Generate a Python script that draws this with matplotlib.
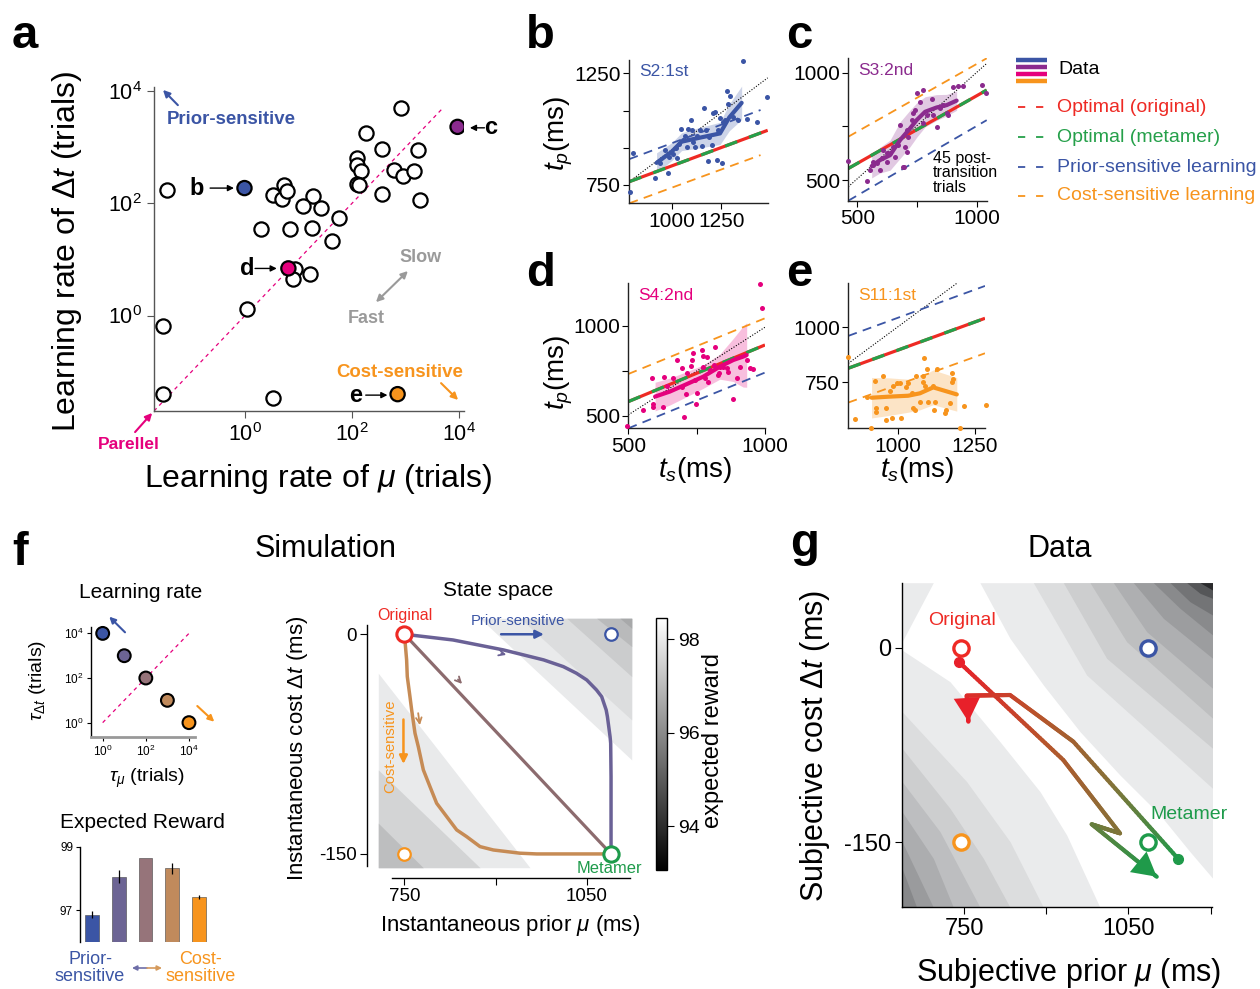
import numpy as np
import matplotlib
matplotlib.use("Agg")
import matplotlib.pyplot as plt
from matplotlib.collections import LineCollection
from matplotlib.colors import LinearSegmentedColormap, Normalize
from matplotlib.cm import ScalarMappable
from matplotlib.ticker import NullLocator

plt.rcParams.update({
    "font.family": ["Liberation Sans", "DejaVu Sans"],
    "mathtext.fontset": "custom",
    "mathtext.rm": "Liberation Sans",
    "mathtext.it": "Liberation Sans:italic",
    "mathtext.bf": "Liberation Sans:bold",
    "axes.linewidth": 1.0,
})

BLUE = "#3B55A5"
PURPLE = "#8B2B8E"
MAGENTA = "#E5007D"
ORANGE = "#F7941D"
RED = "#EE2A24"
GREEN = "#25A04A"
GRAY = "#9A9A9A"

# ---------------- panel a: learning rates (log10 trials) ----------------
a_open_mu = [-1.46, 0.73, 0.53, 0.70, 0.78, 1.27, 1.08, 1.42, 0.30, 0.84, 1.25, 1.76,
             1.62, 0.93, 0.89, 1.21, 0.03, -1.53, -1.53, 0.52, 2.91, 2.26, 2.55, 3.24,
             2.09, 2.09, 2.16, 2.09, 2.12, 2.79, 2.96, 3.15, 2.55, 3.27]
a_open_dt = [2.23, 2.32, 2.14, 2.08, 2.21, 2.13, 1.95, 1.92, 1.54, 1.55, 1.56, 1.73,
             1.33, 0.83, 0.65, 0.74, 0.12, -0.18, -1.39, -1.46, 3.69, 3.25, 2.96, 2.95,
             2.80, 2.68, 2.57, 2.35, 2.32, 2.60, 2.48, 2.57, 2.17, 2.05]
a_hl_mu = [-0.01, 3.97, 0.81, 2.85]
a_hl_dt = [2.27, 3.36, 0.84, -1.40]
a_hl_colors = [BLUE, PURPLE, MAGENTA, ORANGE]

# ---------------- panels b-e: tp vs ts ----------------
b_ts = [790, 804, 916, 941, 966, 983, 988, 1008, 1022, 1025, 1039, 1047, 1059, 1067, 1076,
        1084, 1096, 1101, 1109, 1117, 1129, 1143, 1151, 1163, 1173, 1181, 1190, 1201, 1210,
        1218, 1226, 1235, 1243, 1252, 1260, 1268, 1277, 1285, 1294, 1310, 1335, 1357, 1377,
        1431, 1481]
b_tp = [720, 892, 783, 850, 909, 805, 874, 889, 914, 869, 933, 999, 951, 969, 921,
        999, 1041, 996, 944, 921, 969, 996, 924, 1093, 996, 857, 966, 929, 1071,
        1078, 862, 996, 1048, 847, 1033, 1041, 1171, 1113, 1148, 1056, 1041, 1305, 1044,
        1033, 1145]
b_mean_ts = [924, 1000, 1050, 1126, 1243, 1290, 1352]
b_mean_tp = [849, 899, 944, 959, 981, 1053, 1118]
b_band = [45, 40, 40, 45, 50, 60, 75]
b_ideal = ([787, 1483], [765, 1230])
b_opt = ([787, 1483], [765, 995])
b_prior = ([787, 1447], [866, 1086])
b_cost = ([787, 1447], [668, 884])

c_ts = [462, 542, 564, 567, 581, 595, 602, 609, 623, 637, 651, 658, 672, 679, 693, 700, 707,
        707, 714, 728, 735, 742, 749, 763, 774, 777, 791, 812, 819, 832, 846, 860, 874, 881,
        902, 923, 944, 1021, 1039, 553, 623, 696]
c_tp = [588, 495, 570, 585, 578, 547, 601, 640, 585, 624, 655, 609, 663, 756, 562, 655, 632,
        733, 702, 779, 811, 826, 904, 865, 919, 764, 803, 876, 803, 748, 834, 849, 811, 803,
        935, 938, 938, 943, 904, 547, 624, 562]
c_mean_ts = [560, 595, 637, 679, 721, 749, 784, 832, 874, 916]
c_mean_tp = [565, 593, 616, 686, 741, 780, 818, 838, 849, 870]
c_band = [55, 60, 70, 85, 85, 80, 70, 60, 50, 45]
c_ideal = ([462, 1042], [469, 1043])
c_opt = ([462, 1042], [554, 919])
c_prior = ([462, 1042], [404, 779])
c_cost = ([462, 1042], [702, 1067])

d_ts = [496, 555, 585, 589, 591, 626, 630, 640, 665, 695, 704, 710, 713, 728, 732, 744, 748,
        750, 768, 772, 774, 787, 793, 799, 813, 817, 829, 833, 835, 848, 860, 866, 884, 896,
        909, 933, 945, 982, 990, 957, 677, 695, 738, 780]
d_tp = [442, 532, 708, 563, 550, 546, 717, 665, 708, 662, 494, 621, 736, 777, 810, 699, 565,
        624, 866, 773, 833, 829, 690, 755, 782, 885, 727, 740, 773, 773, 764, 745, 591, 708,
        773, 810, 764, 1234, 1102, 758, 810, 764, 848, 708]
d_mean_ts = [598, 652, 713, 774, 835, 884, 920, 933]
d_mean_tp = [606, 634, 675, 717, 773, 810, 829, 838]
d_band = [80, 75, 70, 65, 70, 120, 170, 180]
d_ideal = ([500, 1000], [504, 993])
d_opt = ([500, 1000], [578, 894])
d_prior = ([500, 1000], [429, 740])
d_cost = ([500, 1000], [732, 1043])

e_ts = [841, 862, 900, 927, 929, 930, 954, 962, 964, 975, 981, 986, 997, 1008, 1010, 1027,
        1034, 1045, 1051, 1056, 1061, 1072, 1081, 1083, 1085, 1088, 1094, 1099, 1115, 1117,
        1121, 1126, 1153, 1156, 1169, 1175, 1175, 1180, 1202, 1214, 1284, 913]
e_tp = [864, 583, 685, 756, 632, 617, 779, 632, 579, 712, 586, 733, 745, 749, 586, 727,
        745, 700, 632, 624, 779, 662, 753, 779, 859, 733, 809, 662, 733, 624,
        662, 809, 612, 624, 655, 753, 791, 764, 541, 642, 647, 541]
e_mean_ts = [916, 975, 1034, 1072, 1115, 1191]
e_mean_tp = [680, 685, 689, 700, 727, 695]
e_band = [92, 85, 75, 75, 79, 76]
e_ideal = ([841, 1191], [836, 1200])
e_opt = ([841, 1282], [814, 1041])
e_prior = ([841, 1282], [961, 1188])
e_cost = ([841, 1282], [658, 882])

# ---------------- panel f ----------------
sim_colors = [BLUE, "#6C6494", "#96747A", "#C08A5C", ORANGE]
lr_mu = [0, 1, 2, 3, 4]
lr_dt = [4, 3, 2, 1, 0]
reward_mean = [96.86, 98.06, 98.64, 98.32, 97.42]
reward_err = [0.11, 0.20, 0.0, 0.17, 0.07]

ss_prior_mu = [750, 830, 913, 979, 1011.5, 1033, 1050, 1066, 1074.6, 1082, 1084, 1088.4,
               1089.4, 1090, 1090]
ss_prior_dt = [0, -3.9, -10.7, -17.5, -22.1, -26.6, -31.2, -38.0, -42.6, -51.7, -56.2, -69.9,
               -74.4, -97.2, -150]
ss_cost_mu = [750, 753.6, 754.7, 759.1, 761.9, 767.4, 772.8, 781.1, 792, 803, 819.5, 836,
              852.4, 874.4, 896.3, 940.2, 967.6, 1022.5, 1090]
ss_cost_dt = [0, -17.5, -28.9, -42.6, -51.7, -67.6, -76.7, -92.6, -104, -115.4, -124.5, -133.6,
              -138.2, -145, -147.3, -149.5, -150, -150, -150]
ss_direct = ([750, 1090], [0, -150])

# reward band edges
f_upper = [([874.4, 1124], [10.9, -85.8]), ([940.2, 1124], [10.9, -58.5]),
           ([1017, 1124], [10.9, -28.9]), ([1066.4, 1124], [10.9, -8.4]),
           ([1104.8, 1124], [10.9, 4.1])]
f_lower = [([707, 956.7], [-26.6, -159.4]), ([707, 874.4], [-92.6, -159.4]),
           ([707, 781], [-129, -159.4])]
f_up_cols = ["#E9EAEB", "#DCDDDE", "#CBCCCD", "#B9BABB", "#A8A9AA"]
f_lo_cols = ["#E9EAEB", "#D3D4D5", "#BDBEBF"]

# ---------------- panel g ----------------
g_upper = [
    ([779, 834, 894.8, 961.7, 1034.6, 1107.7, 1162.4, 1203.8], [50.2, 7.2, -28.8, -64.8, -98.3, -129.1, -157.5, -178]),
    ([876.5, 973.8, 1203.8], [50.2, -21.1, -108.6]),
    ([931.3, 1010.3, 1203.8], [50.2, -8.2, -77.7]),
    ([979.9, 1046.8, 1203.8], [50.2, 4.6, -54.5]),
    ([1022.5, 1083.3, 1203.8], [50.2, 12.4, -31.4]),
    ([1059, 1113.8, 1203.8], [50.2, 22.7, -8.2]),
    ([1095.5, 1144.2, 1203.8], [50.2, 30.4, 9.8]),
    ([1126, 1162.4, 1203.8], [50.2, 35.5, 25.2]),
    ([1156.3, 1180.7, 1203.8], [50.2, 42, 38.1]),
    ([1180.7, 1203.8], [50.2, 44.5]),
]
g_lower = [
    ([637, 724.4, 815.7, 888.7, 937.4, 998], [-1.8, -26.2, -72.6, -111.1, -144.6, -200.4]),
    ([637, 754.9, 834, 894.8], [-49.4, -103.4, -149.7, -200.4]),
    ([637, 724.4, 785.3, 834], [-77.7, -124, -162.6, -200.4]),
    ([637, 706.2, 779.2], [-103.4, -142, -200.4]),
    ([637, 694, 730.5], [-126.6, -162.6, -200.4]),
    ([637, 694], [-149.7, -200.4]),
    ([637, 663.6], [-170.3, -200.4]),
]
g_corner = ([637, 694], [4.6, 50.2])
g_up_cols = ["#EAEBEC", "#DCDDDE", "#CDCECF", "#BEBFC0", "#AEAFB1", "#9C9D9F",
             "#898A8C", "#737476", "#555658", "#2A2A2C"]
g_lo_cols = ["#EAEBEC", "#DCDDDE", "#CDCECF", "#BDBEC0", "#ACADAF", "#9A9B9D", "#87888A"]
g_fwd_mu = [741.4, 931.2, 1034.7, 983, 1101.7]
g_fwd_dt = [-11.3, -86.7, -143.3, -136.3, -176.8]
g_back_mu = [1141.1, 949.5, 834, 755, 758]
g_back_dt = [-163.1, -72.5, -36.5, -37, -57.1]

W, H = 1260, 989
fig = plt.figure(figsize=(W / 100, H / 100), dpi=100)


def add_ax(l, t, r, b):
    return fig.add_axes([l / W, 1 - b / H, (r - l) / W, (b - t) / H])


def ftxt(x, y, s, **kw):
    fig.text(x / W, 1 - y / H, s, **kw)


def lspines(ax, color="#222222"):
    ax.spines["top"].set_visible(False)
    ax.spines["right"].set_visible(False)
    ax.spines["left"].set_color(color)
    ax.spines["bottom"].set_color(color)


# ======================= panel a =======================
axa = add_ax(154, 87, 464, 411)
axa.set_xscale("log")
axa.set_yscale("log")
axa.set_xlim(10 ** -1.70, 10 ** 4.09)
axa.set_ylim(10 ** -1.70, 10 ** 4.07)
axa.plot([10 ** -1.7, 10 ** 3.7], [10 ** -1.7, 10 ** 3.7], color=MAGENTA, lw=0.9, ls=(0, (3, 3)))
axa.scatter(10 ** np.array(a_open_mu), 10 ** np.array(a_open_dt), s=105, facecolors="white",
            edgecolors="black", linewidths=1.6, zorder=3)
axa.scatter(10 ** np.array(a_hl_mu), 10 ** np.array(a_hl_dt), s=105, c=a_hl_colors,
            edgecolors="black", linewidths=1.6, zorder=4)
lspines(axa, "#555555")
axa.set_xticks([1, 100, 1e4])
axa.set_xticklabels([r"$10^0$", r"$10^2$", r"$10^4$"])
axa.set_yticks([1, 100, 1e4])
axa.set_yticklabels([r"$10^0$", r"$10^2$", r"$10^4$"])
axa.xaxis.set_minor_locator(NullLocator())
axa.yaxis.set_minor_locator(NullLocator())
axa.tick_params(labelsize=15.5, length=5, color="#555555")

tA = axa.transAxes
arrow_kw = dict(lw=1.5, mutation_scale=10, shrinkA=0, shrinkB=0)
axa.text(0.042, 0.901, "Prior-sensitive", transform=tA, color=BLUE, fontweight="bold", fontsize=13.4, va="center")
axa.annotate("", xy=(0.029, 0.991), xytext=(0.077, 0.944), xycoords=tA,
             arrowprops=dict(arrowstyle="-|>", color=BLUE, **arrow_kw))
axa.text(0.861, 0.475, "Slow", transform=tA, color=GRAY, fontweight="bold", fontsize=13, ha="center", va="center")
axa.text(0.684, 0.287, "Fast", transform=tA, color=GRAY, fontweight="bold", fontsize=13, ha="center", va="center")
axa.annotate("", xy=(0.819, 0.432), xytext=(0.716, 0.336), xycoords=tA,
             arrowprops=dict(arrowstyle="<|-|>", color=GRAY, **arrow_kw))
axa.text(0.794, 0.120, "Cost-sensitive", transform=tA, color=ORANGE, fontweight="bold", fontsize=13.4, ha="center", va="center")
axa.annotate("", xy=(0.981, 0.034), xytext=(0.926, 0.086), xycoords=tA,
             arrowprops=dict(arrowstyle="-|>", color=ORANGE, **arrow_kw))
axa.text(-0.081, -0.102, "Parellel", transform=tA, color=MAGENTA, fontweight="bold", fontsize=12.5, ha="center", va="center")
axa.annotate("", xy=(-0.006, -0.006), xytext=(-0.061, -0.065), xycoords=tA, annotation_clip=False,
             arrowprops=dict(arrowstyle="-|>", color=MAGENTA, **arrow_kw))
letter_arrow = dict(arrowstyle="-|>", color="black", lw=1.0, mutation_scale=9, shrinkA=0, shrinkB=0)
for name, tx, a0, a1, ty in [("b", 0.139, 0.181, 0.258, 0.688), ("d", 0.301, 0.326, 0.396, 0.440),
                             ("e", 0.651, 0.683, 0.753, 0.049)]:
    axa.text(tx, ty, name, transform=tA, fontweight="bold", fontsize=17, ha="center", va="center")
    axa.annotate("", xy=(a1, ty), xytext=(a0, ty), xycoords=tA, arrowprops=letter_arrow)
axa.text(1.086, 0.874, "c", transform=tA, fontweight="bold", fontsize=17, ha="center", va="center")
axa.annotate("", xy=(1.019, 0.874), xytext=(1.066, 0.874), xycoords=tA, annotation_clip=False,
             arrowprops=letter_arrow)
ftxt(318, 479, r"Learning rate of $\mu$ (trials)", fontsize=23, ha="center", va="center")
ftxt(67, 251, r"Learning rate of $\Delta t$ (trials)", fontsize=23, ha="center", va="center", rotation=90)


# ======================= panels b-e =======================
def tp_panel(ax, ts, tp, m_ts, m_tp, m_hw, ideal, opt, prior, cost, col, label, xlim, ylim):
    ax.set_xlim(*xlim)
    ax.set_ylim(*ylim)
    ax.plot(ideal[0], ideal[1], color="black", lw=0.8, ls=(0, (1, 1.5)))
    ax.plot(cost[0], cost[1], color=ORANGE, lw=1.3, ls=(0, (5, 3.5)))
    ax.plot(prior[0], prior[1], color=BLUE, lw=1.3, ls=(0, (5, 3.5)))
    ax.plot(opt[0], opt[1], color=RED, lw=2.3, solid_capstyle="butt")
    ax.plot(opt[0], opt[1], color=GREEN, lw=2.3, ls=(0, (4, 4)))
    m_ts = np.array(m_ts)
    m_tp = np.array(m_tp)
    m_hw = np.array(m_hw)
    ax.fill_between(m_ts, m_tp - m_hw, m_tp + m_hw, color=col, alpha=0.25, lw=0)
    ax.plot(m_ts, m_tp, color=col, lw=3, solid_capstyle="round")
    ax.scatter(ts, tp, s=13, color=col, lw=0, clip_on=False, zorder=3)
    ax.text(0.07, 0.97, label, transform=ax.transAxes, color=col, fontsize=12.5, va="top")
    lspines(ax)
    ax.tick_params(labelsize=15, length=4, pad=2)


axb = add_ax(629.3, 60, 767.7, 203.3)
tp_panel(axb, b_ts, b_tp, b_mean_ts, b_mean_tp, b_band, b_ideal, b_opt, b_prior, b_cost,
         BLUE, "S2:1st", (787, 1483), (668, 1310))
axb.set_xticks([1000, 1250])
axb.set_yticks([750, 917, 1083, 1250])
axb.set_yticklabels(["750", "", "", "1250"])

axc = add_ax(848.3, 58.3, 986.7, 200.7)
tp_panel(axc, c_ts, c_tp, c_mean_ts, c_mean_tp, c_band, c_ideal, c_opt, c_prior, c_cost,
         PURPLE, "S3:2nd", (462, 1042), (404, 1067))
axc.set_xticks([500, 750, 1000])
axc.set_xticklabels(["500", "", "1000"])
axc.set_yticks([500, 750, 1000])
axc.set_yticklabels(["500", "", "1000"])

axd = add_ax(628.3, 283.3, 765, 428.3)
tp_panel(axd, d_ts, d_tp, d_mean_ts, d_mean_tp, d_band, d_ideal, d_opt, d_prior, d_cost,
         MAGENTA, "S4:2nd", (500, 1000), (429, 1238))
axd.set_xticks([500, 750, 1000])
axd.set_xticklabels(["500", "", "1000"])
axd.set_yticks([500, 750, 1000])
axd.set_yticklabels(["500", "", "1000"])

axe = add_ax(848.3, 283.3, 985, 428.3)
tp_panel(axe, e_ts, e_tp, e_mean_ts, e_mean_tp, e_band, e_ideal, e_opt, e_prior, e_cost,
         ORANGE, "S11:1st", (841, 1282), (541, 1200))
axe.set_xticks([1000, 1250])
axe.set_yticks([750, 1000])

ftxt(933, 151, "45 post-\ntransition\ntrials", fontsize=11.5, va="top", ha="left", linespacing=0.95)
ftxt(559, 133, r"$t_p$(ms)", fontsize=20, rotation=90, ha="center", va="center")
ftxt(559, 372, r"$t_p$(ms)", fontsize=20, rotation=90, ha="center", va="center")
ftxt(695, 470, r"$t_s$(ms)", fontsize=20, ha="center", va="center")
ftxt(917, 470, r"$t_s$(ms)", fontsize=20, ha="center", va="center")

# ======================= panel f: learning rate =======================
axl = add_ax(90.7, 626.7, 195, 736.7)
axl.set_xscale("log")
axl.set_yscale("log")
axl.set_xlim(10 ** -0.556, 10 ** 4.28)
axl.set_ylim(10 ** -0.63, 10 ** 4.3)
axl.plot([1, 1e4], [1, 1e4], color=MAGENTA, lw=0.9, ls=(0, (3, 3)))
axl.scatter(10 ** np.array(lr_mu, float), 10 ** np.array(lr_dt, float), s=85, c=sim_colors,
            edgecolors="black", linewidths=1.5, zorder=3, clip_on=False)
axl.spines["top"].set_visible(False)
axl.spines["right"].set_visible(False)
axl.spines["bottom"].set_color("#999999")
axl.spines["bottom"].set_linewidth(2)
axl.set_xticks([1, 100, 1e4])
axl.set_xticklabels([r"$10^0$", r"$10^2$", r"$10^4$"])
axl.set_yticks([1, 100, 1e4])
axl.set_yticklabels([r"$10^0$", r"$10^2$", r"$10^4$"])
axl.xaxis.set_minor_locator(NullLocator())
axl.yaxis.set_minor_locator(NullLocator())
axl.tick_params(labelsize=8.5, length=3, pad=2)
tL = axl.transAxes
axl.annotate("", xy=(0.178, 1.091), xytext=(0.329, 0.949), xycoords=tL, annotation_clip=False,
             arrowprops=dict(arrowstyle="-|>", color=BLUE, lw=1.5, mutation_scale=9, shrinkA=0, shrinkB=0))
axl.annotate("", xy=(1.185, 0.136), xytext=(1.022, 0.279), xycoords=tL, annotation_clip=False,
             arrowprops=dict(arrowstyle="-|>", color=ORANGE, lw=1.5, mutation_scale=9, shrinkA=0, shrinkB=0))
ftxt(141, 592, "Learning rate", fontsize=15, ha="center", va="center")
ftxt(147, 778, r"$\tau_\mu$ (trials)", fontsize=14, ha="center", va="center")
ftxt(38, 680, r"$\tau_{\Delta t}$ (trials)", fontsize=14, ha="center", va="center", rotation=90)

# ======================= panel f: expected reward =======================
axr = add_ax(80, 846.7, 212, 942.3)
axr.bar(range(5), np.array(reward_mean) - 96, bottom=96, width=0.52, color=sim_colors,
        edgecolor="#444444", linewidth=0.4)
axr.errorbar(range(5), reward_mean, yerr=reward_err, fmt="none", ecolor="black", elinewidth=0.9)
axr.set_xlim(-0.46, 4.5)
axr.set_ylim(96, 99)
axr.spines["top"].set_visible(False)
axr.spines["right"].set_visible(False)
axr.spines["bottom"].set_visible(False)
axr.set_xticks([])
axr.set_yticks([97, 99])
axr.tick_params(labelsize=8.5, length=3, pad=2)
ftxt(142, 822, "Expected Reward", fontsize=15, ha="center", va="center")
ftxt(90, 968, "Prior-\nsensitive", fontsize=13, color=BLUE, ha="center", va="center", linespacing=0.95)
ftxt(201, 968, "Cost-\nsensitive", fontsize=13, color=ORANGE, ha="center", va="center", linespacing=0.95)

ftxt(326, 549, "Simulation", fontsize=22, ha="center", va="center")

# ======================= panel f: state space =======================
axs = add_ax(378.3, 618.3, 631.7, 867.7)
axs.set_xlim(707, 1124)
axs.set_ylim(-159.4, 10.9)
for (bx, by), c in zip(f_upper, f_up_cols):
    axs.fill_between(bx, by, 10.9, color=c, lw=0)
for (bx, by), c in zip(f_lower, f_lo_cols):
    axs.fill_between(bx, -159.4, by, color=c, lw=0)
axs.plot(ss_direct[0], ss_direct[1], color="#8C6B6E", lw=2.3)
axs.plot(ss_prior_mu, ss_prior_dt, color="#6A6196", lw=2.5, solid_joinstyle="round")
axs.plot(ss_cost_mu, ss_cost_dt, color="#C68B55", lw=2.5, solid_joinstyle="round")
axs.annotate("", xy=(922, -14.6), xytext=(905, -12.5),
             arrowprops=dict(arrowstyle="->", color="#6A6196", lw=1.3, mutation_scale=10))
axs.annotate("", xy=(848, -35.3), xytext=(835, -29.5),
             arrowprops=dict(arrowstyle="->", color="#8C6B6E", lw=1.3, mutation_scale=10))
axs.annotate("", xy=(776, -64), xytext=(772, -52),
             arrowprops=dict(arrowstyle="->", color="#C68B55", lw=1.3, mutation_scale=10))
axs.plot([750], [0], "o", ms=11, mfc="white", mec=RED, mew=2.2, clip_on=False, zorder=5)
axs.plot([1090], [-150], "o", ms=11, mfc="white", mec="#1E9B4B", mew=2.2, clip_on=False, zorder=5)
axs.plot([1090], [0], "o", ms=9, mfc="white", mec=BLUE, mew=1.6, zorder=5)
axs.plot([750], [-150], "o", ms=9, mfc="white", mec=ORANGE, mew=1.6, zorder=5)
axs.annotate("", xy=(984, 0), xytext=(904.5, 0),
             arrowprops=dict(arrowstyle="-|>", color=BLUE, lw=1.8, mutation_scale=12))
axs.annotate("", xy=(748.4, -90.4), xytext=(748.4, -56.3),
             arrowprops=dict(arrowstyle="-|>", color=ORANGE, lw=1.8, mutation_scale=12))
axs.text(937, 9.2, "Prior-sensitive", color=BLUE, fontsize=10.7, ha="center", va="center")
axs.text(726.5, -76.7, "Cost-sensitive", color=ORANGE, fontsize=10.7, ha="center", va="center", rotation=90)
axs.text(751.4, 12.5, "Original", color=RED, fontsize=11.5, ha="center", va="center", clip_on=False)
axs.text(1088, -160, "Metamer", color="#1E9B4B", fontsize=11.9, ha="center", va="center", clip_on=False)
axs.spines["top"].set_visible(False)
axs.spines["right"].set_visible(False)
axs.spines["left"].set_position(("outward", 8.4))
axs.spines["bottom"].set_position(("outward", 7.6))
axs.spines["left"].set_bounds(-158, 6)
axs.spines["bottom"].set_bounds(729, 1121)
axs.set_xticks([750, 900, 1050])
axs.set_xticklabels(["750", "", "1050"])
axs.set_yticks([0, -150])
axs.set_yticklabels(["0", "-150"])
axs.tick_params(labelsize=13.5, length=5, pad=2)
ftxt(498, 591, "State space", fontsize=15, ha="center", va="center")
ftxt(510, 925, r"Instantaneous prior $\mu$ (ms)", fontsize=16, ha="center", va="center")
ftxt(297, 748, r"Instantaneous cost $\Delta t$ (ms)", fontsize=16, ha="center", va="center", rotation=90)

cax = add_ax(656, 617.7, 666.7, 870)
cb = fig.colorbar(ScalarMappable(norm=Normalize(93.07, 98.46), cmap="gray"), cax=cax)
cb.set_ticks([94, 96, 98])
cb.ax.tick_params(labelsize=14, length=5)
ftxt(713, 741, "expected reward", fontsize=17, ha="center", va="center", rotation=90)

# ======================= panel g =======================
axg = add_ax(902.3, 582.7, 1211.7, 907.3)
axg.set_xlim(637.4, 1202)
axg.set_ylim(-200.4, 50.2)
axg.fill_between(g_corner[0], g_corner[1], 50.2, color="#EAEBEC", lw=0)
for (bx, by), c in zip(g_upper, g_up_cols):
    axg.fill_between(bx, by, 50.2, color=c, lw=0)
for (bx, by), c in zip(g_lower, g_lo_cols):
    axg.fill_between(bx, -200.4, by, color=c, lw=0)

grad = LinearSegmentedColormap.from_list("rg", ["#E8202A", "#B8542B", "#857238", "#1F9A4A"])


def gradient_path(ax, xs, ys, cmap, lw):
    xs = np.asarray(xs, float)
    ys = np.asarray(ys, float)
    px, py = [], []
    for i in range(len(xs) - 1):
        t = np.linspace(0, 1, 40, endpoint=False)
        px.extend(xs[i] + (xs[i + 1] - xs[i]) * t)
        py.extend(ys[i] + (ys[i + 1] - ys[i]) * t)
    px.append(xs[-1])
    py.append(ys[-1])
    px, py = np.array(px), np.array(py)
    x0, x1 = ax.get_xlim()
    y0, y1 = ax.get_ylim()
    d = np.hypot(np.diff(px) / (x1 - x0), np.diff(py) / (y1 - y0))
    s = np.concatenate([[0], np.cumsum(d)])
    s /= s[-1]
    pts = np.column_stack([px, py]).reshape(-1, 1, 2)
    segs = np.concatenate([pts[:-1], pts[1:]], axis=1)
    lc = LineCollection(segs, colors=cmap((s[:-1] + s[1:]) / 2), linewidths=lw,
                        capstyle="round", joinstyle="round", zorder=3)
    ax.add_collection(lc)


gradient_path(axg, g_fwd_mu, g_fwd_dt, grad, 3.0)
gradient_path(axg, g_back_mu, g_back_dt, grad.reversed(), 3.0)
head = "-|>,head_length=0.9,head_width=0.5"
axg.annotate("", xy=(g_fwd_mu[-1], g_fwd_dt[-1]), xytext=(g_fwd_mu[-2], g_fwd_dt[-2]),
             arrowprops=dict(arrowstyle=head, color="#1F9A4A", lw=0, shrinkA=0, shrinkB=0,
                             mutation_scale=19), zorder=4)
axg.annotate("", xy=(g_back_mu[-1], g_back_dt[-1]), xytext=(g_back_mu[-2], g_back_dt[-2]),
             arrowprops=dict(arrowstyle=head, color="#E8202A", lw=0, shrinkA=0, shrinkB=0,
                             mutation_scale=19), zorder=4)
axg.plot([g_fwd_mu[0]], [g_fwd_dt[0]], "o", ms=7, color="#E8202A", zorder=5)
axg.plot([g_back_mu[0]], [g_back_dt[0]], "o", ms=7, color="#1F9A4A", zorder=5)
axg.plot([745], [0], "o", ms=11, mfc="white", mec=RED, mew=2.4, zorder=5)
axg.plot([1086], [0], "o", ms=11, mfc="white", mec=BLUE, mew=2.4, zorder=5)
axg.plot([745], [-150], "o", ms=11, mfc="white", mec=ORANGE, mew=2.4, zorder=5)
axg.plot([1086], [-150], "o", ms=11, mfc="white", mec="#1E9B4B", mew=2.4, zorder=5)
axg.text(747, 21, "Original", color=RED, fontsize=14, ha="center", va="center")
axg.text(1161, -128.6, "Metamer", color="#1E9B4B", fontsize=14, ha="center", va="center")
lspines(axg, "black")
axg.set_xticks([750, 900, 1050, 1200])
axg.set_xticklabels(["750", "", "1050", ""])
axg.set_yticks([0, -150])
axg.set_yticklabels(["0", "-150"])
axg.tick_params(labelsize=17, length=5, pad=3)
ftxt(1060, 549, "Data", fontsize=22, ha="center", va="center")
ftxt(1069, 973, r"Subjective prior $\mu$ (ms)", fontsize=22, ha="center", va="center")
ftxt(815, 746, r"Subjective cost $\Delta t$ (ms)", fontsize=22, ha="center", va="center", rotation=90)

# ======================= overlay: legend, panel letters =======================
ov = fig.add_axes([0, 0, 1, 1], zorder=10)
ov.set_xlim(0, W)
ov.set_ylim(H, 0)
ov.axis("off")
ov.patch.set_alpha(0)
for i, c in enumerate([BLUE, PURPLE, MAGENTA, ORANGE]):
    ov.plot([1016, 1047], [59.5 + 7.1 * i] * 2, color=c, lw=3.2, solid_capstyle="butt")
ov.text(1058, 70, "Data", fontsize=14, va="center")
for yy, c, s in [(107, RED, "Optimal (original)"), (137, GREEN, "Optimal (metamer)"),
                 (167, BLUE, "Prior-sensitive learning"), (196, ORANGE, "Cost-sensitive learning")]:
    ov.plot([1018, 1046], [yy, yy], color=c, lw=1.3, ls=(0, (4, 6)))
    ov.text(1057, yy, s, fontsize=14, color=c, va="center")
ov.annotate("", xy=(132, 968), xytext=(147, 968),
            arrowprops=dict(arrowstyle="-|>", color="#6E6EA8", lw=1.2, mutation_scale=7, shrinkA=0, shrinkB=0))
ov.annotate("", xy=(162, 968), xytext=(147, 968),
            arrowprops=dict(arrowstyle="-|>", color="#D59A5C", lw=1.2, mutation_scale=7, shrinkA=0, shrinkB=0))

for letter, x, y in [("a", 12, 48), ("b", 526, 48), ("c", 786, 48), ("d", 526, 286),
                     ("e", 786, 286), ("f", 12, 565), ("g", 790, 556)]:
    ftxt(x, y, letter, fontsize=34, fontweight="bold", va="baseline", ha="left")

fig.savefig("out.png", dpi=100)
